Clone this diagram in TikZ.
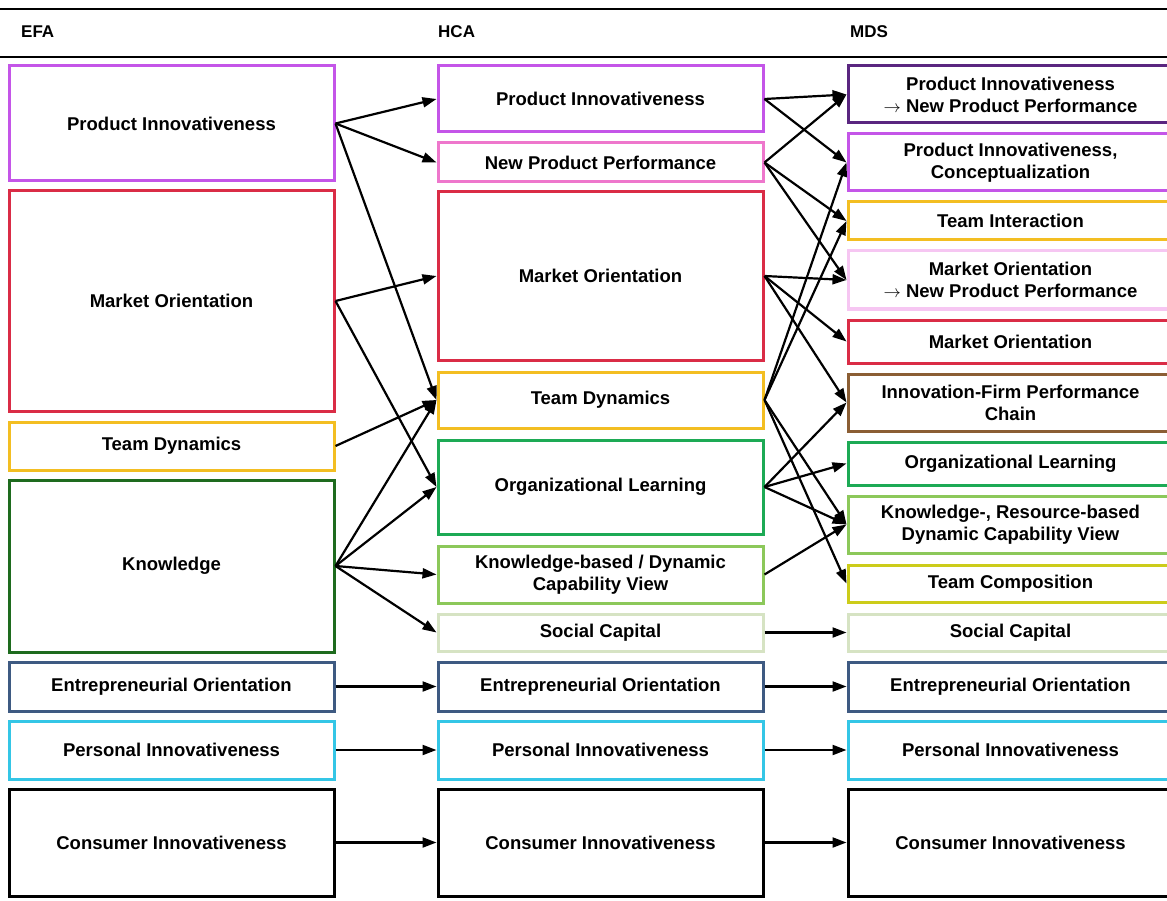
\documentclass[tikz,border=0pt]{standalone}
\usepackage{fontspec}
\setmainfont{Liberation Sans}
\usetikzlibrary{arrows.meta}
\definecolor{cPI}{HTML}{C455E8}
\definecolor{cNPP}{HTML}{EE77CC}
\definecolor{cMO}{HTML}{DA2C46}
\definecolor{cTD}{HTML}{F3BE22}
\definecolor{cK}{HTML}{1E6B1E}
\definecolor{cOL}{HTML}{1DAA55}
\definecolor{cKB}{HTML}{8CC85A}
\definecolor{cSC}{HTML}{D6E3C3}
\definecolor{cEO}{HTML}{3E5A82}
\definecolor{cPII}{HTML}{34C6E6}
\definecolor{cPINPP}{HTML}{5A2680}
\definecolor{cMONPP}{HTML}{F6C6F2}
\definecolor{cIFPC}{HTML}{8B5E34}
\definecolor{cTC}{HTML}{CCCC1A}
\begin{document}
\begin{tikzpicture}[x=1pt,y=-1pt,
  box/.style={draw, line width=3pt, minimum width=325pt, align=center, inner sep=0pt,
    font=\bfseries\fontsize{18.5}{22}\selectfont},
  hdr/.style={anchor=west, inner sep=0pt, font=\bfseries\fontsize{17}{20}\selectfont},
  arr/.style={-{Triangle[length=14pt,width=10pt]}, line width=2.2pt}]
\clip (0,0) rectangle (1167,901);
\fill[white] (0,0) rectangle (1167,901);
% header
\draw[line width=1.4pt] (0,9) -- (1167,9);
\draw[line width=1.4pt] (0,57) -- (1167,57);
\node[hdr] (tEFA) at (21,32) {EFA};
\node[hdr] (tHCA) at (438,32) {HCA};
\node[hdr] (tMDS) at (850,32) {MDS};
% EFA
\node[box,draw=cPI,minimum height=115pt] (ePI) at (171.5,123.5) {Product Innovativeness};
\node[box,draw=cMO,minimum height=220pt] (eMO) at (171.5,301) {Market Orientation};
\node[box,draw=cTD,minimum height=48pt] (eTD) at (171.5,446) {Team Dynamics};
\node[box,draw=cK,minimum height=172pt] (eK) at (171.5,566) {Knowledge};
\node[box,draw=cEO,minimum height=49pt] (eEO) at (171.5,686.5) {Entrepreneurial Orientation};
\node[box,draw=cPII,minimum height=58pt] (ePII) at (171.5,750) {Personal Innovativeness};
\node[box,draw=black,minimum height=107pt] (eCI) at (171.5,842.5) {Consumer Innovativeness};
% HCA
\node[box,draw=cPI,minimum height=66pt] (hPI) at (600.5,99) {Product Innovativeness};
\node[box,draw=cNPP,minimum height=39pt] (hNPP) at (600.5,162.5) {New Product Performance};
\node[box,draw=cMO,minimum height=168pt] (hMO) at (600.5,276) {Market Orientation};
\node[box,draw=cTD,minimum height=56pt] (hTD) at (600.5,400) {Team Dynamics};
\node[box,draw=cOL,minimum height=94pt] (hOL) at (600.5,487) {Organizational Learning};
\node[box,draw=cKB,minimum height=57pt] (hKB) at (600.5,574.5) {Knowledge-based / Dynamic\\Capability View};
\node[box,draw=cSC,minimum height=37pt] (hSC) at (600.5,632.5) {Social Capital};
\node[box,draw=cEO,minimum height=49pt] (hEO) at (600.5,686.5) {Entrepreneurial Orientation};
\node[box,draw=cPII,minimum height=58pt] (hPII) at (600.5,750) {Personal Innovativeness};
\node[box,draw=black,minimum height=107pt] (hCI) at (600.5,842.5) {Consumer Innovativeness};
% MDS
\node[box,draw=cPINPP,minimum height=57pt] (mPINPP) at (1010.5,94.5) {Product Innovativeness\\$\rightarrow$ New Product Performance};
\node[box,draw=cPI,minimum height=57pt] (mPIC) at (1010.5,162.5) {Product Innovativeness,\\Conceptualization};
\node[box,draw=cTD,minimum height=38pt] (mTI) at (1010.5,221) {Team Interaction};
\node[box,draw=cMONPP,minimum height=58pt] (mMONPP) at (1010.5,280) {Market Orientation\\$\rightarrow$ New Product Performance};
\node[box,draw=cMO,minimum height=43pt] (mMO) at (1010.5,341.5) {Market Orientation};
\node[box,draw=cIFPC,minimum height=57pt] (mIFPC) at (1010.5,402.5) {Innovation-Firm Performance\\Chain};
\node[box,draw=cOL,minimum height=43pt] (mOL) at (1010.5,463.5) {Organizational Learning};
\node[box,draw=cKB,minimum height=57pt] (mKRB) at (1010.5,524.5) {Knowledge-, Resource-based\\Dynamic Capability View};
\node[box,draw=cTC,minimum height=37pt] (mTC) at (1010.5,583.5) {Team Composition};
\node[box,draw=cSC,minimum height=37pt] (mSC) at (1010.5,632.5) {Social Capital};
\node[box,draw=cEO,minimum height=49pt] (mEO) at (1010.5,686.5) {Entrepreneurial Orientation};
\node[box,draw=cPII,minimum height=58pt] (mPII) at (1010.5,750) {Personal Innovativeness};
\node[box,draw=black,minimum height=107pt] (mCI) at (1010.5,842.5) {Consumer Innovativeness};
% EFA -> HCA
\draw[arr] (ePI.east) -- (hPI.west);
\draw[arr] (ePI.east) -- (hNPP.west);
\draw[arr] (ePI.east) -- (hTD.west);
\draw[arr] (eMO.east) -- (hMO.west);
\draw[arr] (eMO.east) -- (hOL.west);
\draw[arr] (eTD.east) -- (hTD.west);
\draw[arr] (eK.east) -- (hTD.west);
\draw[arr] (eK.east) -- (hOL.west);
\draw[arr] (eK.east) -- (hKB.west);
\draw[arr] (eK.east) -- (hSC.west);
\draw[arr] (eEO.east) -- (hEO.west);
\draw[arr] (ePII.east) -- (hPII.west);
\draw[arr] (eCI.east) -- (hCI.west);
% HCA -> MDS
\draw[arr] (hPI.east) -- (mPINPP.west);
\draw[arr] (hPI.east) -- (mPIC.west);
\draw[arr] (hNPP.east) -- (mPINPP.west);
\draw[arr] (hNPP.east) -- (mTI.west);
\draw[arr] (hNPP.east) -- (mMONPP.west);
\draw[arr] (hMO.east) -- (mMONPP.west);
\draw[arr] (hMO.east) -- (mMO.west);
\draw[arr] (hMO.east) -- (mIFPC.west);
\draw[arr] (hTD.east) -- (mPIC.west);
\draw[arr] (hTD.east) -- (mTI.west);
\draw[arr] (hTD.east) -- (mKRB.west);
\draw[arr] (hTD.east) -- (mTC.west);
\draw[arr] (hOL.east) -- (mIFPC.west);
\draw[arr] (hOL.east) -- (mOL.west);
\draw[arr] (hOL.east) -- (mKRB.west);
\draw[arr] (hKB.east) -- (mKRB.west);
\draw[arr] (hSC.east) -- (mSC.west);
\draw[arr] (hEO.east) -- (mEO.west);
\draw[arr] (hPII.east) -- (mPII.west);
\draw[arr] (hCI.east) -- (mCI.west);
\end{tikzpicture}
\end{document}
